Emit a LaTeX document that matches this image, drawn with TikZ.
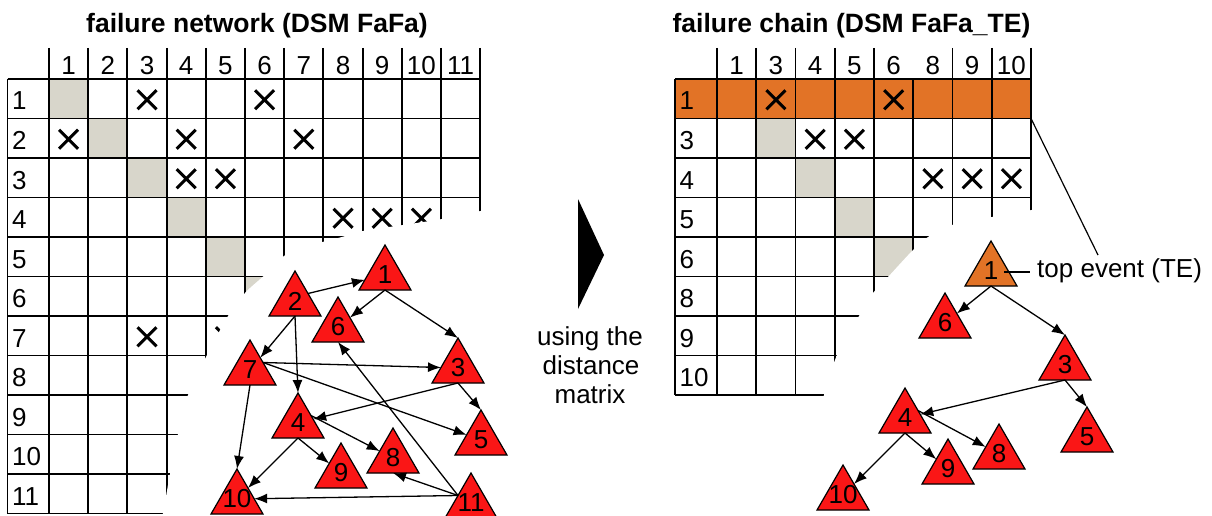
\documentclass[tikz,border=0pt]{standalone}
\usepackage{fontspec}
\setmainfont{Liberation Sans}
\usetikzlibrary{shapes.geometric,arrows.meta,calc}
\definecolor{cellgray}{RGB}{216,214,203}
\definecolor{teorange}{RGB}{226,115,38}
\definecolor{nodered}{RGB}{250,22,22}
\newcommand{\lbl}{\fontsize{26}{30}\selectfont}
\newcommand{\ttl}{\fontsize{26.5}{30}\selectfont\bfseries}
\begin{document}
\begin{tikzpicture}[x=1pt,y=-1pt,
  gridline/.style={line width=1.9pt},
  xmk/.style={line width=3pt},
  tri/.style={regular polygon, regular polygon sides=3, minimum size=60pt,
    inner sep=0pt, outer sep=0pt, draw=black, line width=1.2pt, fill=nodered},
  conn/.style={-{Latex[length=13pt,width=10pt]}, line width=1.3pt},
  txt/.style={font=\lbl, inner sep=0pt}]

\useasboundingbox (0,0) rectangle (1212,516);

% ---------------- titles
\node[font=\ttl, inner sep=0pt, anchor=base] (t1) at (257,33) {failure network (DSM FaFa)};
\node[font=\ttl, inner sep=0pt, anchor=base] (t2) at (851.5,33) {failure chain (DSM FaFa\_TE)};

% ---------------- left matrix
\foreach \i in {1,...,6}
  \fill[cellgray] ({49+(\i-1)*39.2},{79+(\i-1)*39.5}) rectangle +(39.2,39.5);
\foreach \k in {0,...,11}
  \draw[gridline] (7.5,{79+\k*39.5}) -- (480.2,{79+\k*39.5});
\draw[gridline] (7.5,79) -- (7.5,513.5);
\foreach \k in {0,...,11}
  \draw[gridline] ({49+\k*39.2},48) -- ({49+\k*39.2},513.5);
\foreach \i in {1,...,11}{
  \node[txt, anchor=base] (lh\i) at ({49+(\i-0.5)*39.2},75) {\i};
  \node[txt, anchor=base west] (lr\i) at (12,{79+(\i-1)*39.5+31}) {\i};
}
\foreach \r/\c in {1/3,1/6,2/1,2/4,2/7,3/4,3/5,4/8,4/9,4/10,7/3,7/5}
  \draw[xmk] ({49+(\c-0.5)*39.2-9.5},{79+(\r-0.5)*39.5-8.5}) -- ++(19,19)
             ({49+(\c-0.5)*39.2+9.5},{79+(\r-0.5)*39.5-8.5}) -- ++(-19,19);

% ---------------- right matrix
\fill[teorange] (675,79) rectangle (1031,118.5);
\foreach \i in {2,...,5}
  \fill[cellgray] ({717+(\i-1)*39.25},{79+(\i-1)*39.5}) rectangle +(39.25,39.5);
\foreach \k in {0,...,8}
  \draw[gridline] (675,{79+\k*39.5}) -- (1031,{79+\k*39.5});
\draw[gridline] (675,79) -- (675,395);
\foreach \k in {0,...,8}
  \draw[gridline] ({717+\k*39.25},79) -- ({717+\k*39.25},395);
\foreach \k in {0,1,2,3,4,6,7,8}
  \draw[gridline] ({717+\k*39.25},48) -- ({717+\k*39.25},79);
\foreach \t [count=\i] in {1,3,4,5,6,8,9,10}{
  \node[txt, anchor=base] (rh\i) at ({717+(\i-0.5)*39.25},75) {\t};
  \node[txt, anchor=base west] (rr\i) at (679.5,{79+(\i-1)*39.5+31}) {\t};
}
\foreach \r/\c in {1/2,1/5,2/3,2/4,3/6,3/7,3/8}
  \draw[xmk] ({717+(\c-0.5)*39.25-9.5},{79+(\r-0.5)*39.5-8.5}) -- ++(19,19)
             ({717+(\c-0.5)*39.25+9.5},{79+(\r-0.5)*39.5-8.5}) -- ++(-19,19);

% ---------------- white blobs covering the matrices
\fill[white] plot[smooth, tension=0.5] coordinates {(530,200) (480.5,211) (442,219) (403,225)
  (363,231) (340,237.5) (300,248) (284,256) (263,276.5) (245,293) (228,316) (207,355)
  (188,395) (178,434) (170,474) (163,513) (160,522)} -- (530,522) -- cycle;
\fill[white] plot[smooth, tension=0.5] coordinates {(1045,204) (1031.5,210) (992,217) (952,225)
  (928,237) (913,250) (888,277) (873,293) (859,316) (837,355) (824,395) (812,440) (798,522)}
  -- (1045,522) -- cycle;

% ---------------- middle arrow and text
\fill (578,199) -- (604,255) -- (578,309) -- cycle;
\node[txt, anchor=base] (m1) at (590,345) {using the};
\node[txt, anchor=base] (m2) at (591,374) {distance};
\node[txt, anchor=base] (m3) at (590,403) {matrix};

% ---------------- left network
\tikzset{lab/.style={label={[txt]center:#1}}}
\node[tri, lab=1] (l1) at (385,275) {};
\node[tri, lab=2] (l2) at (295,301) {};
\node[tri, lab=6] (l6) at (338,327) {};
\node[tri, lab=7] (l7) at (250,370) {};
\node[tri, lab=3] (l3) at (458,368) {};
\node[tri, lab=4] (l4) at (298,423) {};
\node[tri, lab=5] (l5) at (481,440) {};
\node[tri, lab=8] (l8) at (393,458) {};
\node[tri, lab=9] (l9) at (341,473) {};
\node[tri, lab=10] (l10) at (237,499) {};
\node[tri, lab=11] (l11) at (471,503) {};

\draw[conn] (l1.side 2) -- (l6);
\draw[conn] (l1.side 2) -- (l3.corner 1);
\draw[conn] (l2.side 3) -- (l1);
\draw[conn] (l2.side 2) -- (l7);
\draw[conn] (l2.side 2) -- (l4.corner 1);
\draw[conn] (l7.side 3) -- (l3);
\draw[conn] (l7.side 3) -- (l5);
\draw[conn] (l7.side 2) -- (l10.corner 1);
\draw[conn] (l3.side 2) -- (l4);
\draw[conn] (l3.side 2) -- (l5.corner 1);
\draw[conn] (l4.side 2) -- (l10);
\draw[conn] (l4.side 2) -- (l9);
\draw[conn] (l4.side 3) -- (l8);
\draw[conn] (l11.side 1) -- (l6.side 2);
\draw[conn] (l11.side 1) -- (l8.side 2);
\draw[conn] (l11.side 1) -- (l10);

% ---------------- right network
\node[tri, fill=teorange, lab=1] (r1) at (991,271) {};
\node[tri, lab=6] (r6) at (945,323) {};
\node[tri, lab=3] (r3) at (1065,365) {};
\node[tri, lab=4] (r4) at (905,418) {};
\node[tri, lab=5] (r5) at (1087,437) {};
\node[tri, lab=8] (r8) at (999,454) {};
\node[tri, lab=9] (r9) at (948,469) {};
\node[tri, lab=10] (r10) at (843,495) {};

\draw[conn] (r1.side 2) -- (r6);
\draw[conn] (r1.side 2) -- (r3.corner 1);
\draw[conn] (r3.side 2) -- (r4);
\draw[conn] (r3.side 2) -- (r5.corner 1);
\draw[conn] (r4.side 2) -- (r10);
\draw[conn] (r4.side 2) -- (r9);
\draw[conn] (r4.side 3) -- (r8);

% ---------------- top event label
\node[txt, anchor=base west] (te) at (1037,277) {top event (TE)};
\coordinate (orc) at (1031,118.5);
\coordinate (tec) at (1098,255);
\coordinate (tel) at (1030,272);
\draw[line width=1.2pt] (orc) -- (tec);
\draw[line width=1.3pt] ($(r1.center)+(13,1)$) -- (tel);
\end{tikzpicture}
\end{document}
